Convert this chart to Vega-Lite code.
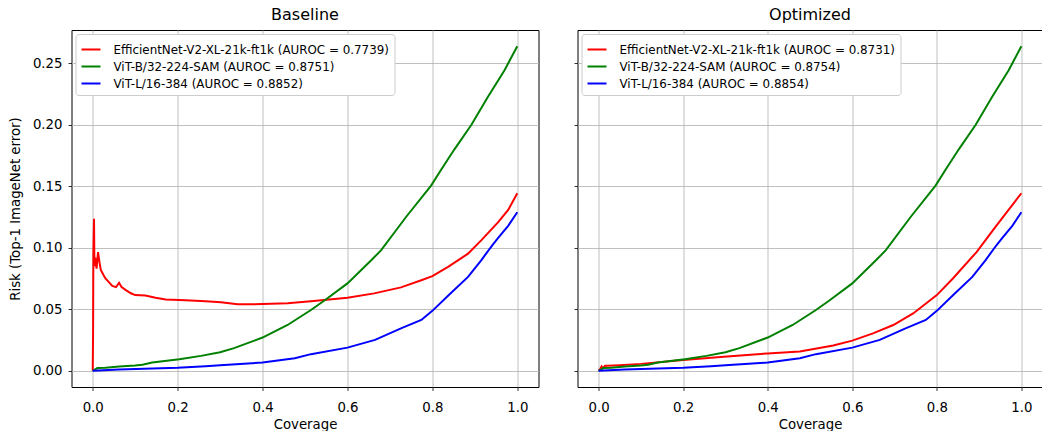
{
  "$schema": "https://vega.github.io/schema/vega-lite/v6.json",
  "background": "white",
  "padding": {"left": 7.5, "top": 6, "right": 0, "bottom": 0},
  "datasets": {
    "baseline": [
      {"series": "EfficientNet-V2-XL-21k-ft1k (AUROC = 0.7739)", "coverage": 0, "risk": 0},
      {"series": "EfficientNet-V2-XL-21k-ft1k (AUROC = 0.7739)", "coverage": 0.0008, "risk": 0.03},
      {"series": "EfficientNet-V2-XL-21k-ft1k (AUROC = 0.7739)", "coverage": 0.0015, "risk": 0.095},
      {"series": "EfficientNet-V2-XL-21k-ft1k (AUROC = 0.7739)", "coverage": 0.003, "risk": 0.1235},
      {"series": "EfficientNet-V2-XL-21k-ft1k (AUROC = 0.7739)", "coverage": 0.004, "risk": 0.085},
      {"series": "EfficientNet-V2-XL-21k-ft1k (AUROC = 0.7739)", "coverage": 0.006, "risk": 0.092},
      {"series": "EfficientNet-V2-XL-21k-ft1k (AUROC = 0.7739)", "coverage": 0.009, "risk": 0.083},
      {"series": "EfficientNet-V2-XL-21k-ft1k (AUROC = 0.7739)", "coverage": 0.0125, "risk": 0.0965},
      {"series": "EfficientNet-V2-XL-21k-ft1k (AUROC = 0.7739)", "coverage": 0.016, "risk": 0.088},
      {"series": "EfficientNet-V2-XL-21k-ft1k (AUROC = 0.7739)", "coverage": 0.019, "risk": 0.082},
      {"series": "EfficientNet-V2-XL-21k-ft1k (AUROC = 0.7739)", "coverage": 0.025, "risk": 0.078},
      {"series": "EfficientNet-V2-XL-21k-ft1k (AUROC = 0.7739)", "coverage": 0.03, "risk": 0.075},
      {"series": "EfficientNet-V2-XL-21k-ft1k (AUROC = 0.7739)", "coverage": 0.038, "risk": 0.072},
      {"series": "EfficientNet-V2-XL-21k-ft1k (AUROC = 0.7739)", "coverage": 0.046, "risk": 0.069},
      {"series": "EfficientNet-V2-XL-21k-ft1k (AUROC = 0.7739)", "coverage": 0.055, "risk": 0.068},
      {"series": "EfficientNet-V2-XL-21k-ft1k (AUROC = 0.7739)", "coverage": 0.062, "risk": 0.0715},
      {"series": "EfficientNet-V2-XL-21k-ft1k (AUROC = 0.7739)", "coverage": 0.068, "risk": 0.068},
      {"series": "EfficientNet-V2-XL-21k-ft1k (AUROC = 0.7739)", "coverage": 0.078, "risk": 0.0655},
      {"series": "EfficientNet-V2-XL-21k-ft1k (AUROC = 0.7739)", "coverage": 0.09, "risk": 0.063},
      {"series": "EfficientNet-V2-XL-21k-ft1k (AUROC = 0.7739)", "coverage": 0.1, "risk": 0.0615},
      {"series": "EfficientNet-V2-XL-21k-ft1k (AUROC = 0.7739)", "coverage": 0.124, "risk": 0.0612},
      {"series": "EfficientNet-V2-XL-21k-ft1k (AUROC = 0.7739)", "coverage": 0.148, "risk": 0.0593},
      {"series": "EfficientNet-V2-XL-21k-ft1k (AUROC = 0.7739)", "coverage": 0.172, "risk": 0.058},
      {"series": "EfficientNet-V2-XL-21k-ft1k (AUROC = 0.7739)", "coverage": 0.219, "risk": 0.0574},
      {"series": "EfficientNet-V2-XL-21k-ft1k (AUROC = 0.7739)", "coverage": 0.266, "risk": 0.0566},
      {"series": "EfficientNet-V2-XL-21k-ft1k (AUROC = 0.7739)", "coverage": 0.302, "risk": 0.0556},
      {"series": "EfficientNet-V2-XL-21k-ft1k (AUROC = 0.7739)", "coverage": 0.341, "risk": 0.054},
      {"series": "EfficientNet-V2-XL-21k-ft1k (AUROC = 0.7739)", "coverage": 0.4, "risk": 0.0542},
      {"series": "EfficientNet-V2-XL-21k-ft1k (AUROC = 0.7739)", "coverage": 0.459, "risk": 0.0548},
      {"series": "EfficientNet-V2-XL-21k-ft1k (AUROC = 0.7739)", "coverage": 0.514, "risk": 0.0566},
      {"series": "EfficientNet-V2-XL-21k-ft1k (AUROC = 0.7739)", "coverage": 0.6, "risk": 0.0593},
      {"series": "EfficientNet-V2-XL-21k-ft1k (AUROC = 0.7739)", "coverage": 0.663, "risk": 0.0629},
      {"series": "EfficientNet-V2-XL-21k-ft1k (AUROC = 0.7739)", "coverage": 0.726, "risk": 0.0678},
      {"series": "EfficientNet-V2-XL-21k-ft1k (AUROC = 0.7739)", "coverage": 0.774, "risk": 0.0736},
      {"series": "EfficientNet-V2-XL-21k-ft1k (AUROC = 0.7739)", "coverage": 0.8, "risk": 0.0769},
      {"series": "EfficientNet-V2-XL-21k-ft1k (AUROC = 0.7739)", "coverage": 0.837, "risk": 0.0844},
      {"series": "EfficientNet-V2-XL-21k-ft1k (AUROC = 0.7739)", "coverage": 0.884, "risk": 0.0952},
      {"series": "EfficientNet-V2-XL-21k-ft1k (AUROC = 0.7739)", "coverage": 0.915, "risk": 0.106},
      {"series": "EfficientNet-V2-XL-21k-ft1k (AUROC = 0.7739)", "coverage": 0.955, "risk": 0.1208},
      {"series": "EfficientNet-V2-XL-21k-ft1k (AUROC = 0.7739)", "coverage": 0.979, "risk": 0.131},
      {"series": "EfficientNet-V2-XL-21k-ft1k (AUROC = 0.7739)", "coverage": 1.0, "risk": 0.1443},
      {"series": "ViT-B/32-224-SAM (AUROC = 0.8751)", "coverage": 0, "risk": 0},
      {"series": "ViT-B/32-224-SAM (AUROC = 0.8751)", "coverage": 0.005, "risk": 0.001},
      {"series": "ViT-B/32-224-SAM (AUROC = 0.8751)", "coverage": 0.011, "risk": 0.0022},
      {"series": "ViT-B/32-224-SAM (AUROC = 0.8751)", "coverage": 0.03, "risk": 0.0025},
      {"series": "ViT-B/32-224-SAM (AUROC = 0.8751)", "coverage": 0.062, "risk": 0.0035},
      {"series": "ViT-B/32-224-SAM (AUROC = 0.8751)", "coverage": 0.1, "risk": 0.0042},
      {"series": "ViT-B/32-224-SAM (AUROC = 0.8751)", "coverage": 0.117, "risk": 0.0049},
      {"series": "ViT-B/32-224-SAM (AUROC = 0.8751)", "coverage": 0.14, "risk": 0.0067},
      {"series": "ViT-B/32-224-SAM (AUROC = 0.8751)", "coverage": 0.204, "risk": 0.0094},
      {"series": "ViT-B/32-224-SAM (AUROC = 0.8751)", "coverage": 0.255, "risk": 0.0121},
      {"series": "ViT-B/32-224-SAM (AUROC = 0.8751)", "coverage": 0.3, "risk": 0.015},
      {"series": "ViT-B/32-224-SAM (AUROC = 0.8751)", "coverage": 0.333, "risk": 0.0184},
      {"series": "ViT-B/32-224-SAM (AUROC = 0.8751)", "coverage": 0.4, "risk": 0.027},
      {"series": "ViT-B/32-224-SAM (AUROC = 0.8751)", "coverage": 0.459, "risk": 0.0372},
      {"series": "ViT-B/32-224-SAM (AUROC = 0.8751)", "coverage": 0.514, "risk": 0.0494},
      {"series": "ViT-B/32-224-SAM (AUROC = 0.8751)", "coverage": 0.545, "risk": 0.0569},
      {"series": "ViT-B/32-224-SAM (AUROC = 0.8751)", "coverage": 0.6, "risk": 0.071},
      {"series": "ViT-B/32-224-SAM (AUROC = 0.8751)", "coverage": 0.656, "risk": 0.0898},
      {"series": "ViT-B/32-224-SAM (AUROC = 0.8751)", "coverage": 0.679, "risk": 0.0979},
      {"series": "ViT-B/32-224-SAM (AUROC = 0.8751)", "coverage": 0.738, "risk": 0.125},
      {"series": "ViT-B/32-224-SAM (AUROC = 0.8751)", "coverage": 0.797, "risk": 0.1505},
      {"series": "ViT-B/32-224-SAM (AUROC = 0.8751)", "coverage": 0.821, "risk": 0.1636},
      {"series": "ViT-B/32-224-SAM (AUROC = 0.8751)", "coverage": 0.852, "risk": 0.18},
      {"series": "ViT-B/32-224-SAM (AUROC = 0.8751)", "coverage": 0.892, "risk": 0.2},
      {"series": "ViT-B/32-224-SAM (AUROC = 0.8751)", "coverage": 0.931, "risk": 0.2227},
      {"series": "ViT-B/32-224-SAM (AUROC = 0.8751)", "coverage": 0.97, "risk": 0.2443},
      {"series": "ViT-B/32-224-SAM (AUROC = 0.8751)", "coverage": 1.0, "risk": 0.2638},
      {"series": "ViT-L/16-384 (AUROC = 0.8852)", "coverage": 0, "risk": 0},
      {"series": "ViT-L/16-384 (AUROC = 0.8852)", "coverage": 0.062, "risk": 0.0011},
      {"series": "ViT-L/16-384 (AUROC = 0.8852)", "coverage": 0.14, "risk": 0.0019},
      {"series": "ViT-L/16-384 (AUROC = 0.8852)", "coverage": 0.2, "risk": 0.0025},
      {"series": "ViT-L/16-384 (AUROC = 0.8852)", "coverage": 0.266, "risk": 0.0037},
      {"series": "ViT-L/16-384 (AUROC = 0.8852)", "coverage": 0.3, "risk": 0.0045},
      {"series": "ViT-L/16-384 (AUROC = 0.8852)", "coverage": 0.4, "risk": 0.0067},
      {"series": "ViT-L/16-384 (AUROC = 0.8852)", "coverage": 0.476, "risk": 0.0102},
      {"series": "ViT-L/16-384 (AUROC = 0.8852)", "coverage": 0.514, "risk": 0.0135},
      {"series": "ViT-L/16-384 (AUROC = 0.8852)", "coverage": 0.6, "risk": 0.0188},
      {"series": "ViT-L/16-384 (AUROC = 0.8852)", "coverage": 0.665, "risk": 0.0251},
      {"series": "ViT-L/16-384 (AUROC = 0.8852)", "coverage": 0.726, "risk": 0.0345},
      {"series": "ViT-L/16-384 (AUROC = 0.8852)", "coverage": 0.774, "risk": 0.0413},
      {"series": "ViT-L/16-384 (AUROC = 0.8852)", "coverage": 0.8, "risk": 0.0487},
      {"series": "ViT-L/16-384 (AUROC = 0.8852)", "coverage": 0.84, "risk": 0.062},
      {"series": "ViT-L/16-384 (AUROC = 0.8852)", "coverage": 0.884, "risk": 0.0763},
      {"series": "ViT-L/16-384 (AUROC = 0.8852)", "coverage": 0.915, "risk": 0.0898},
      {"series": "ViT-L/16-384 (AUROC = 0.8852)", "coverage": 0.941, "risk": 0.102},
      {"series": "ViT-L/16-384 (AUROC = 0.8852)", "coverage": 0.955, "risk": 0.108},
      {"series": "ViT-L/16-384 (AUROC = 0.8852)", "coverage": 0.979, "risk": 0.118},
      {"series": "ViT-L/16-384 (AUROC = 0.8852)", "coverage": 1.0, "risk": 0.1289}
    ],
    "optimized": [
      {"series": "EfficientNet-V2-XL-21k-ft1k (AUROC = 0.8731)", "coverage": 0, "risk": 0},
      {"series": "EfficientNet-V2-XL-21k-ft1k (AUROC = 0.8731)", "coverage": 0.003, "risk": 0.001},
      {"series": "EfficientNet-V2-XL-21k-ft1k (AUROC = 0.8731)", "coverage": 0.007, "risk": 0.0035},
      {"series": "EfficientNet-V2-XL-21k-ft1k (AUROC = 0.8731)", "coverage": 0.01, "risk": 0.002},
      {"series": "EfficientNet-V2-XL-21k-ft1k (AUROC = 0.8731)", "coverage": 0.015, "risk": 0.004},
      {"series": "EfficientNet-V2-XL-21k-ft1k (AUROC = 0.8731)", "coverage": 0.021, "risk": 0.004},
      {"series": "EfficientNet-V2-XL-21k-ft1k (AUROC = 0.8731)", "coverage": 0.05, "risk": 0.0045},
      {"series": "EfficientNet-V2-XL-21k-ft1k (AUROC = 0.8731)", "coverage": 0.1, "risk": 0.0056},
      {"series": "EfficientNet-V2-XL-21k-ft1k (AUROC = 0.8731)", "coverage": 0.2, "risk": 0.0087},
      {"series": "EfficientNet-V2-XL-21k-ft1k (AUROC = 0.8731)", "coverage": 0.296, "risk": 0.0114},
      {"series": "EfficientNet-V2-XL-21k-ft1k (AUROC = 0.8731)", "coverage": 0.4, "risk": 0.0141},
      {"series": "EfficientNet-V2-XL-21k-ft1k (AUROC = 0.8731)", "coverage": 0.476, "risk": 0.0157},
      {"series": "EfficientNet-V2-XL-21k-ft1k (AUROC = 0.8731)", "coverage": 0.555, "risk": 0.0205},
      {"series": "EfficientNet-V2-XL-21k-ft1k (AUROC = 0.8731)", "coverage": 0.6, "risk": 0.0245},
      {"series": "EfficientNet-V2-XL-21k-ft1k (AUROC = 0.8731)", "coverage": 0.649, "risk": 0.0304},
      {"series": "EfficientNet-V2-XL-21k-ft1k (AUROC = 0.8731)", "coverage": 0.697, "risk": 0.0372},
      {"series": "EfficientNet-V2-XL-21k-ft1k (AUROC = 0.8731)", "coverage": 0.744, "risk": 0.0466},
      {"series": "EfficientNet-V2-XL-21k-ft1k (AUROC = 0.8731)", "coverage": 0.8, "risk": 0.0615},
      {"series": "EfficientNet-V2-XL-21k-ft1k (AUROC = 0.8731)", "coverage": 0.838, "risk": 0.075},
      {"series": "EfficientNet-V2-XL-21k-ft1k (AUROC = 0.8731)", "coverage": 0.894, "risk": 0.0965},
      {"series": "EfficientNet-V2-XL-21k-ft1k (AUROC = 0.8731)", "coverage": 0.941, "risk": 0.118},
      {"series": "EfficientNet-V2-XL-21k-ft1k (AUROC = 0.8731)", "coverage": 1.0, "risk": 0.1443},
      {"series": "ViT-B/32-224-SAM (AUROC = 0.8754)", "coverage": 0, "risk": 0},
      {"series": "ViT-B/32-224-SAM (AUROC = 0.8754)", "coverage": 0.005, "risk": 0.001},
      {"series": "ViT-B/32-224-SAM (AUROC = 0.8754)", "coverage": 0.011, "risk": 0.0022},
      {"series": "ViT-B/32-224-SAM (AUROC = 0.8754)", "coverage": 0.03, "risk": 0.0025},
      {"series": "ViT-B/32-224-SAM (AUROC = 0.8754)", "coverage": 0.062, "risk": 0.0035},
      {"series": "ViT-B/32-224-SAM (AUROC = 0.8754)", "coverage": 0.1, "risk": 0.0042},
      {"series": "ViT-B/32-224-SAM (AUROC = 0.8754)", "coverage": 0.117, "risk": 0.0049},
      {"series": "ViT-B/32-224-SAM (AUROC = 0.8754)", "coverage": 0.14, "risk": 0.0067},
      {"series": "ViT-B/32-224-SAM (AUROC = 0.8754)", "coverage": 0.204, "risk": 0.0094},
      {"series": "ViT-B/32-224-SAM (AUROC = 0.8754)", "coverage": 0.255, "risk": 0.0121},
      {"series": "ViT-B/32-224-SAM (AUROC = 0.8754)", "coverage": 0.3, "risk": 0.015},
      {"series": "ViT-B/32-224-SAM (AUROC = 0.8754)", "coverage": 0.333, "risk": 0.0184},
      {"series": "ViT-B/32-224-SAM (AUROC = 0.8754)", "coverage": 0.4, "risk": 0.027},
      {"series": "ViT-B/32-224-SAM (AUROC = 0.8754)", "coverage": 0.459, "risk": 0.0372},
      {"series": "ViT-B/32-224-SAM (AUROC = 0.8754)", "coverage": 0.514, "risk": 0.0494},
      {"series": "ViT-B/32-224-SAM (AUROC = 0.8754)", "coverage": 0.545, "risk": 0.0569},
      {"series": "ViT-B/32-224-SAM (AUROC = 0.8754)", "coverage": 0.6, "risk": 0.071},
      {"series": "ViT-B/32-224-SAM (AUROC = 0.8754)", "coverage": 0.656, "risk": 0.0898},
      {"series": "ViT-B/32-224-SAM (AUROC = 0.8754)", "coverage": 0.679, "risk": 0.0979},
      {"series": "ViT-B/32-224-SAM (AUROC = 0.8754)", "coverage": 0.738, "risk": 0.125},
      {"series": "ViT-B/32-224-SAM (AUROC = 0.8754)", "coverage": 0.797, "risk": 0.1505},
      {"series": "ViT-B/32-224-SAM (AUROC = 0.8754)", "coverage": 0.821, "risk": 0.1636},
      {"series": "ViT-B/32-224-SAM (AUROC = 0.8754)", "coverage": 0.852, "risk": 0.18},
      {"series": "ViT-B/32-224-SAM (AUROC = 0.8754)", "coverage": 0.892, "risk": 0.2},
      {"series": "ViT-B/32-224-SAM (AUROC = 0.8754)", "coverage": 0.931, "risk": 0.2227},
      {"series": "ViT-B/32-224-SAM (AUROC = 0.8754)", "coverage": 0.97, "risk": 0.2443},
      {"series": "ViT-B/32-224-SAM (AUROC = 0.8754)", "coverage": 1.0, "risk": 0.2638},
      {"series": "ViT-L/16-384 (AUROC = 0.8854)", "coverage": 0, "risk": 0},
      {"series": "ViT-L/16-384 (AUROC = 0.8854)", "coverage": 0.062, "risk": 0.0011},
      {"series": "ViT-L/16-384 (AUROC = 0.8854)", "coverage": 0.14, "risk": 0.0019},
      {"series": "ViT-L/16-384 (AUROC = 0.8854)", "coverage": 0.2, "risk": 0.0025},
      {"series": "ViT-L/16-384 (AUROC = 0.8854)", "coverage": 0.266, "risk": 0.0037},
      {"series": "ViT-L/16-384 (AUROC = 0.8854)", "coverage": 0.3, "risk": 0.0045},
      {"series": "ViT-L/16-384 (AUROC = 0.8854)", "coverage": 0.4, "risk": 0.0067},
      {"series": "ViT-L/16-384 (AUROC = 0.8854)", "coverage": 0.476, "risk": 0.0102},
      {"series": "ViT-L/16-384 (AUROC = 0.8854)", "coverage": 0.514, "risk": 0.0135},
      {"series": "ViT-L/16-384 (AUROC = 0.8854)", "coverage": 0.6, "risk": 0.0188},
      {"series": "ViT-L/16-384 (AUROC = 0.8854)", "coverage": 0.665, "risk": 0.0251},
      {"series": "ViT-L/16-384 (AUROC = 0.8854)", "coverage": 0.726, "risk": 0.0345},
      {"series": "ViT-L/16-384 (AUROC = 0.8854)", "coverage": 0.774, "risk": 0.0413},
      {"series": "ViT-L/16-384 (AUROC = 0.8854)", "coverage": 0.8, "risk": 0.0487},
      {"series": "ViT-L/16-384 (AUROC = 0.8854)", "coverage": 0.84, "risk": 0.062},
      {"series": "ViT-L/16-384 (AUROC = 0.8854)", "coverage": 0.884, "risk": 0.0763},
      {"series": "ViT-L/16-384 (AUROC = 0.8854)", "coverage": 0.915, "risk": 0.0898},
      {"series": "ViT-L/16-384 (AUROC = 0.8854)", "coverage": 0.941, "risk": 0.102},
      {"series": "ViT-L/16-384 (AUROC = 0.8854)", "coverage": 0.955, "risk": 0.108},
      {"series": "ViT-L/16-384 (AUROC = 0.8854)", "coverage": 0.979, "risk": 0.118},
      {"series": "ViT-L/16-384 (AUROC = 0.8854)", "coverage": 1.0, "risk": 0.1289}
    ]
  },
  "spacing": 39,
  "bounds": "flush",
  "resolve": {"scale": {"color": "independent"}, "legend": {"color": "independent"}},
  "hconcat": [
    {
      "width": 467,
      "height": 357,
      "title": "Baseline",
      "data": {"name": "baseline"},
      "mark": {"type": "line", "strokeWidth": 2},
      "encoding": {
        "x": {"field": "coverage", "type": "quantitative", "scale": {"domain": [-0.05, 1.05], "nice": false, "zero": false},
              "axis": {"title": "Coverage", "values": [0, 0.2, 0.4, 0.6, 0.8, 1.0], "format": ".1f"}},
        "y": {"field": "risk", "type": "quantitative", "scale": {"domain": [-0.0132, 0.277], "nice": false, "zero": false},
              "axis": {"title": "Risk (Top-1 ImageNet error)", "values": [0, 0.05, 0.1, 0.15, 0.2, 0.25], "format": ".2f"}},
        "color": {"field": "series", "type": "nominal",
                  "scale": {"domain": ["EfficientNet-V2-XL-21k-ft1k (AUROC = 0.7739)", "ViT-B/32-224-SAM (AUROC = 0.8751)", "ViT-L/16-384 (AUROC = 0.8852)"], "range": ["#ff0000", "#008000", "#0000ff"]},
                  "legend": {"title": null}}
      }
    },
    {
      "width": 465,
      "height": 357,
      "title": "Optimized",
      "data": {"name": "optimized"},
      "mark": {"type": "line", "strokeWidth": 2},
      "encoding": {
        "x": {"field": "coverage", "type": "quantitative", "scale": {"domain": [-0.05, 1.05], "nice": false, "zero": false},
              "axis": {"title": "Coverage", "values": [0, 0.2, 0.4, 0.6, 0.8, 1.0], "format": ".1f"}},
        "y": {"field": "risk", "type": "quantitative", "scale": {"domain": [-0.0132, 0.277], "nice": false, "zero": false},
              "axis": {"title": null, "labels": false, "values": [0, 0.05, 0.1, 0.15, 0.2, 0.25]}},
        "color": {"field": "series", "type": "nominal",
                  "scale": {"domain": ["EfficientNet-V2-XL-21k-ft1k (AUROC = 0.8731)", "ViT-B/32-224-SAM (AUROC = 0.8754)", "ViT-L/16-384 (AUROC = 0.8854)"], "range": ["#ff0000", "#008000", "#0000ff"]},
                  "legend": {"title": null}}
      }
    }
  ],
  "config": {
    "font": "DejaVu Sans",
    "view": {"stroke": "black", "strokeWidth": 1},
    "axis": {"grid": true, "gridColor": "#b0b0b0", "gridWidth": 0.8, "domain": false, "tickColor": "black", "tickSize": 3.5, "tickWidth": 0.8,
             "labelFontSize": 13.3, "labelColor": "black", "labelFont": "DejaVu Sans", "titleFont": "DejaVu Sans", "titleFontSize": 13.3, "titleFontWeight": "normal", "titleColor": "black"},
    "axisX": {"labelPadding": 10, "titlePadding": 4},
    "axisY": {"labelPadding": 6, "titlePadding": 10},
    "title": {"fontSize": 16, "fontWeight": "normal", "color": "black", "offset": 7, "font": "DejaVu Sans"},
    "legend": {"orient": "top-left", "offset": 4, "padding": 5, "fillColor": "white", "strokeColor": "#cccccc", "cornerRadius": 3,
               "labelFontSize": 11.9, "labelColor": "black", "labelFont": "DejaVu Sans", "labelLimit": 0, "symbolType": "stroke", "symbolStrokeWidth": 2, "symbolSize": 361, "labelOffset": 12, "rowPadding": 0}
  }
}
